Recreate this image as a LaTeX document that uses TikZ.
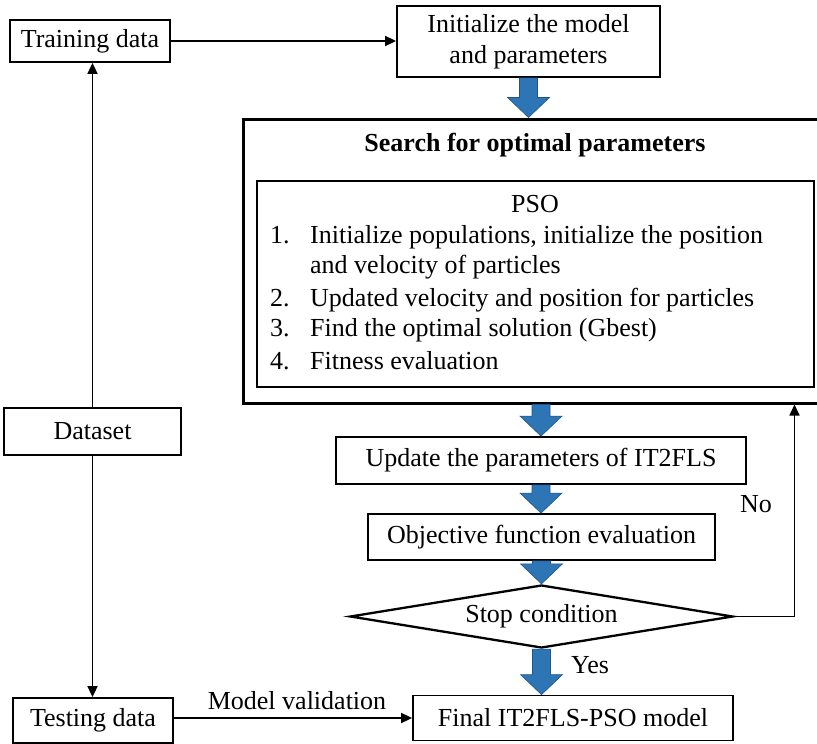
\documentclass[tikz,border=0pt]{standalone}
\usepackage{fontspec}
\setmainfont{Liberation Serif}
\usetikzlibrary{arrows.meta,calc,shapes.geometric}
\definecolor{bblue}{RGB}{46,117,182}
\definecolor{bdark}{RGB}{31,84,140}
\newcommand\blockarr[2]{\path[barrow] let \p1=(#1), \p2=(#2) in
  (\x1-9pt,\y1) -- (\x1+9pt,\y1) -- (\x1+9pt,\y2+20pt) -- (\x1+21pt,\y2+20pt) --
  (\x1,\y2) -- (\x1-21pt,\y2+20pt) -- (\x1-9pt,\y2+20pt) -- cycle;}
\begin{document}
\begin{tikzpicture}[x=1pt,y=-1pt,
  txt/.style={font=\fontsize{26}{31}\selectfont},
  box/.style={txt, draw, line width=1.8pt, inner sep=0pt, align=center},
  lbl/.style={txt, inner sep=0pt, text height=18pt, text depth=6pt},
  conn/.style={line width=1.7pt, -{Triangle[length=11pt,width=10pt]}},
  barrow/.style={draw=bdark, fill=bblue, line width=0.6pt}]
\useasboundingbox (0,0) rectangle (817,744);

% boxes
\node[box, minimum width=160, minimum height=42] (train) at (90,41) {Training data};
\node[box, minimum width=263, minimum height=71] (init) at (528.5,41.5) {Initialize the model\\and parameters};
\node[draw, line width=3pt, minimum width=575, minimum height=284, inner sep=0pt] (outer) at (530.5,261) {};
\node[lbl, font={\fontsize{26}{31}\selectfont\bfseries}] (title) at (535,145) {Search for optimal parameters};
\node[draw, line width=1.9pt, minimum width=557, minimum height=206, inner sep=0pt] (pso) at (535.5,284) {};
\node[lbl] (psot) at (535,206) {PSO};
\node[lbl, anchor=west] (n1) at (270,237) {1.};
\node[lbl, anchor=west] (t1) at (310,237) {Initialize populations, initialize the position};
\node[lbl, anchor=west] (t1b) at (310,267) {and velocity of particles};
\node[lbl, anchor=west] (n2) at (270,300) {2.};
\node[lbl, anchor=west] (t2) at (310,300) {Updated velocity and position for particles};
\node[lbl, anchor=west] (n3) at (270,330) {3.};
\node[lbl, anchor=west] (t3) at (310,330) {Find the optimal solution (Gbest)};
\node[lbl, anchor=west] (n4) at (270,363) {4.};
\node[lbl, anchor=west] (t4) at (310,363) {Fitness evaluation};

\node[box, minimum width=410, minimum height=47] (update) at (541,460.5) {Update the parameters of IT2FLS};
\node[box, minimum width=347, minimum height=46] (objective) at (541.5,537) {Objective function evaluation};
\node[box, diamond, aspect=6, line width=2.3pt, minimum width=383, minimum height=63] (stop) at (541.5,616.5) {Stop condition};
\node[box, minimum width=320, minimum height=45] (final) at (573,718) {Final IT2FLS-PSO model};
\node[box, minimum width=177, minimum height=47] (data) at (92.5,431.5) {Dataset};
\node[box, minimum width=160, minimum height=45] (test) at (93,720.5) {Testing data};

% labels
\node[lbl] (no) at (756,506) {No};
\node[lbl] (yes) at (590,667) {Yes};
\node[lbl] (mv) at (297,703) {Model validation};

% thin connectors
\draw[conn] (train.east) -- (init.west |- train.east);
\draw[conn] (data.north) -- (data.north |- train.south);
\draw[conn] (data.south) -- (data.south |- test.north);
\draw[conn] (test.east |- final.west) -- (final.west);
\draw[conn] (stop.east) -| ($(outer.south east)+(-25,0)$);

% block arrows
\blockarr{init.south}{init.south |- outer.north}
\blockarr{update.north |- outer.south}{update.north}
\blockarr{update.south}{objective.north}
\blockarr{objective.south}{stop.north}
\blockarr{stop.south}{stop.south |- final.north}
\end{tikzpicture}
\end{document}
